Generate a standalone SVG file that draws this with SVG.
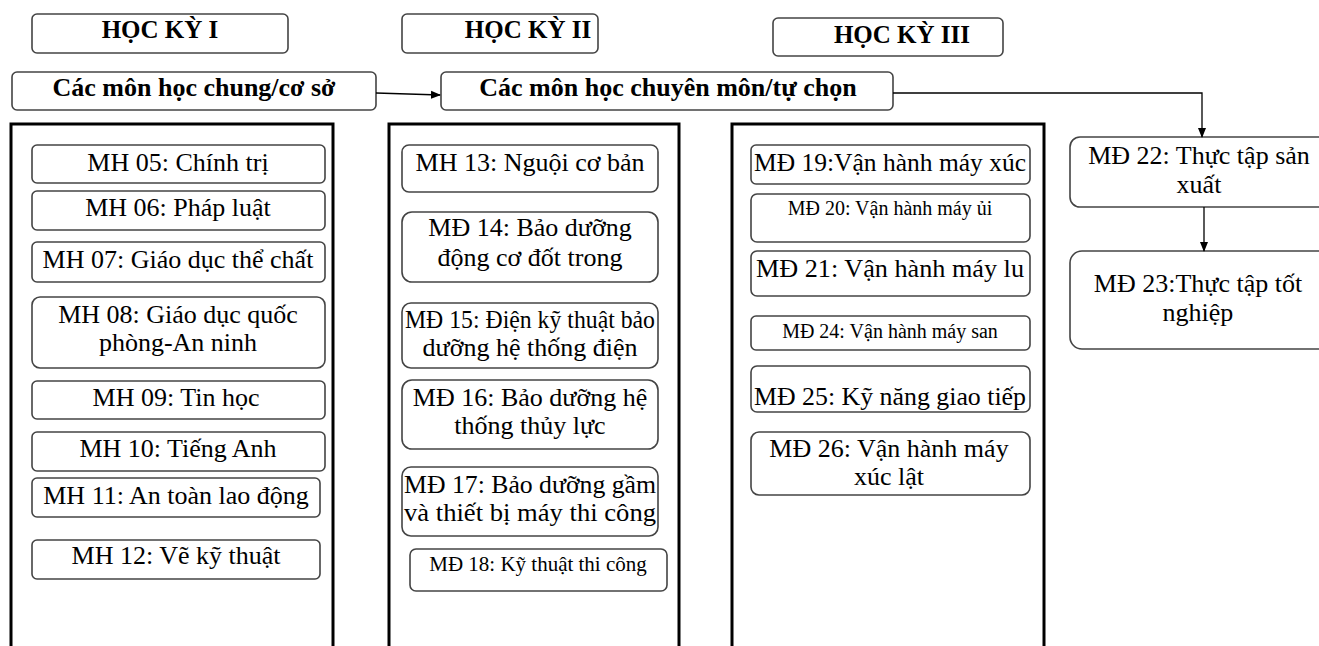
<svg xmlns="http://www.w3.org/2000/svg" width="1319" height="646" viewBox="0 0 1319 646">
<style>
.bg{fill:#fff}
.hdr{fill:#fff;stroke:#444;stroke-width:1.6}
.col{fill:#fff;stroke:#000;stroke-width:3}
.it{fill:#fff;stroke:#444;stroke-width:1.6}
text{font-family:"Liberation Serif","Times New Roman",serif;fill:#000;text-anchor:middle}
.t{font-size:26px}
.b{font-weight:bold;font-size:25px}
.bb{font-weight:bold;font-size:26px}
.s{font-size:21px}
.xs{font-size:20px}
.ln{fill:none;stroke:#000;stroke-width:1.3}
</style>
<defs>
<marker id="ah" markerWidth="10" markerHeight="10" refX="9" refY="5" orient="auto" markerUnits="userSpaceOnUse">
<path d="M0,1 L10,5 L0,9 Z" fill="#000"/>
</marker>
</defs>
<rect class="bg" x="0" y="0" width="1319" height="646"/>

<g id="hk1"><rect class="hdr" x="32" y="14" width="256" height="39" rx="5"/><text class="b" x="160" y="38">HỌC KỲ I</text></g>
<g id="hk2"><rect class="hdr" x="402" y="14" width="196" height="39" rx="5"/><text class="b" x="528" y="38">HỌC KỲ II</text></g>
<g id="hk3"><rect class="hdr" x="773" y="18" width="230" height="38" rx="5"/><text class="b" x="902" y="43">HỌC KỲ III</text></g>

<g id="chung"><rect class="hdr" x="12" y="72" width="364" height="38" rx="5"/><text class="bb" x="194" y="96">Các môn học chung/cơ sở</text></g>
<g id="chuyen"><rect class="hdr" x="441" y="72" width="452" height="38" rx="5"/><text class="bb" x="668" y="96">Các môn học chuyên môn/tự chọn</text></g>

<g id="col1"><rect class="col" x="11" y="124" width="322" height="530"/></g>
<g id="col2"><rect class="col" x="389" y="124" width="290" height="530"/></g>
<g id="col3"><rect class="col" x="732" y="124" width="312" height="530"/></g>

<g id="mh05"><rect class="it" x="32" y="145" width="293" height="38" rx="5"/><text class="t" x="178" y="171">MH 05: Chính trị</text></g>
<g id="mh06"><rect class="it" x="32" y="191" width="293" height="39" rx="5"/><text class="t" x="178" y="216">MH 06: Pháp luật</text></g>
<g id="mh07"><rect class="it" x="32" y="242" width="293" height="40" rx="5"/><text class="t" x="178" y="268">MH 07: Giáo dục thể chất</text></g>
<g id="mh08"><rect class="it" x="32" y="297" width="293" height="71" rx="8"/><text class="t" x="178" y="323">MH 08: Giáo dục quốc</text><text class="t" x="178" y="351">phòng-An ninh</text></g>
<g id="mh09"><rect class="it" x="32" y="381" width="293" height="38" rx="5"/><text class="t" x="176" y="406">MH 09: Tin học</text></g>
<g id="mh10"><rect class="it" x="32" y="432" width="293" height="39" rx="5"/><text class="t" x="178" y="457">MH 10: Tiếng Anh</text></g>
<g id="mh11"><rect class="it" x="32" y="478" width="288" height="39" rx="5"/><text class="t" x="176" y="504">MH 11: An toàn lao động</text></g>
<g id="mh12"><rect class="it" x="32" y="540" width="288" height="39" rx="5"/><text class="t" x="176" y="564">MH 12: Vẽ kỹ thuật</text></g>

<g id="mh13"><rect class="it" x="402" y="145" width="256" height="47" rx="7"/><text class="t" x="530" y="171">MH 13: Nguội cơ bản</text></g>
<g id="md14"><rect class="it" x="402" y="212" width="256" height="70" rx="10"/><text class="t" x="530" y="236">MĐ 14: Bảo dưỡng</text><text class="t" x="530" y="266">động cơ đốt trong</text></g>
<g id="md15"><rect class="it" x="402" y="303" width="256" height="65" rx="9"/><text class="t" x="530" y="328" textLength="250" lengthAdjust="spacingAndGlyphs">MĐ 15: Điện kỹ thuật bảo</text><text class="t" x="530" y="356">dưỡng hệ thống điện</text></g>
<g id="md16"><rect class="it" x="402" y="380" width="256" height="69" rx="10"/><text class="t" x="530" y="406">MĐ 16: Bảo dưỡng hệ</text><text class="t" x="530" y="434">thống thủy lực</text></g>
<g id="md17"><rect class="it" x="402" y="467" width="256" height="69" rx="9"/><text class="t" x="530" y="493" textLength="252" lengthAdjust="spacingAndGlyphs">MĐ 17: Bảo dưỡng gầm</text><text class="t" x="530" y="521" textLength="252" lengthAdjust="spacingAndGlyphs">và thiết bị máy thi công</text></g>
<g id="md18"><rect class="it" x="410" y="549" width="257" height="42" rx="6"/><text class="s" x="538" y="571">MĐ 18: Kỹ thuật thi công</text></g>

<g id="md19"><rect class="it" x="751" y="145" width="279" height="39" rx="5"/><text class="t" x="890" y="171" textLength="272" lengthAdjust="spacingAndGlyphs">MĐ 19:Vận hành máy xúc</text></g>
<g id="md20"><rect class="it" x="751" y="194" width="279" height="48" rx="6"/><text class="xs" x="890" y="215">MĐ 20: Vận hành máy ủi</text></g>
<g id="md21"><rect class="it" x="751" y="251" width="279" height="45" rx="6"/><text class="t" x="890" y="277" textLength="268" lengthAdjust="spacingAndGlyphs">MĐ 21: Vận hành máy lu</text></g>
<g id="md24"><rect class="it" x="751" y="316" width="279" height="34" rx="5"/><text class="xs" x="890" y="338">MĐ 24: Vận hành máy san</text></g>
<g id="md25"><rect class="it" x="751" y="366" width="279" height="46" rx="6"/><text class="t" x="890" y="405" textLength="272" lengthAdjust="spacingAndGlyphs">MĐ 25: Kỹ năng giao tiếp</text></g>
<g id="md26"><rect class="it" x="751" y="432" width="279" height="63" rx="8"/><text class="t" x="889" y="457">MĐ 26: Vận hành máy</text><text class="t" x="889" y="485">xúc lật</text></g>

<g id="md22"><rect class="it" x="1070" y="137" width="262" height="70" rx="10"/><text class="t" x="1199" y="164">MĐ 22: Thực tập sản</text><text class="t" x="1199" y="193">xuất</text></g>
<g id="md23"><rect class="it" x="1070" y="251" width="262" height="98" rx="12"/><text class="t" x="1198" y="292">MĐ 23:Thực tập tốt</text><text class="t" x="1198" y="321">nghiệp</text></g>

<g id="connectors">
<path class="ln" d="M376,93 L440,95" marker-end="url(#ah)"/>
<path class="ln" d="M893,93 L1202,93 L1202,137" marker-end="url(#ah)"/>
<path class="ln" d="M1204,207 L1204,251" marker-end="url(#ah)"/>
</g>
</svg>
